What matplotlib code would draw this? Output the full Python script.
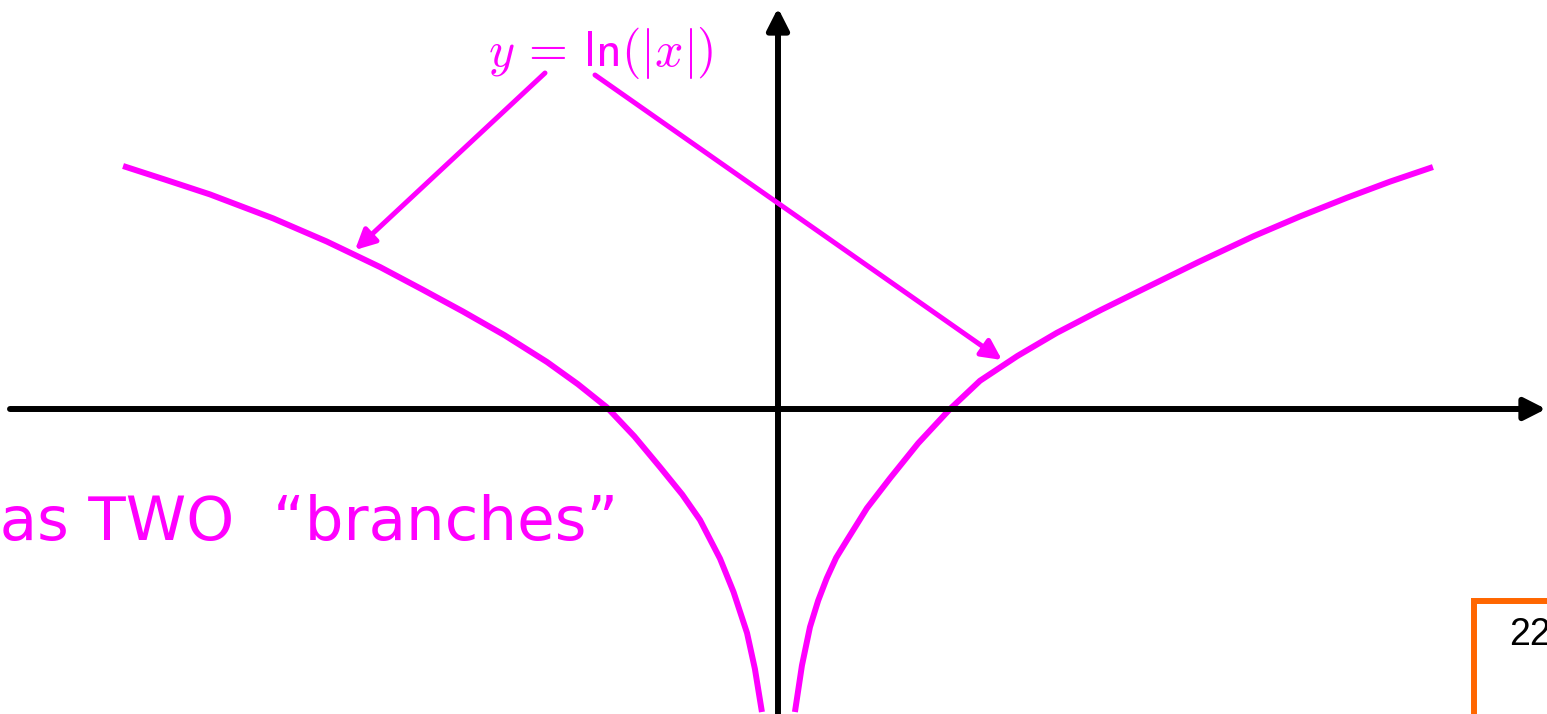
import matplotlib
matplotlib.use("Agg")
import matplotlib.pyplot as plt

# curve data, in axis units (1 unit = distance from origin to x = 1)
left_x = [-3.83, -3.58, -3.322, -2.953, -2.64, -2.327, -2.08, -1.842, -1.60, -1.351,
          -1.17, -1.0, -0.84, -0.69, -0.56, -0.456, -0.339, -0.26, -0.181, -0.135, -0.094]
left_y = [1.421, 1.34, 1.255, 1.115, 0.98, 0.830, 0.699, 0.570, 0.432, 0.275,
          0.145, 0.009, -0.16, -0.34, -0.50, -0.649, -0.875, -1.07, -1.31, -1.52, -1.772]
right_x = [0.099, 0.14, 0.187, 0.235, 0.285, 0.34, 0.404, 0.52, 0.655, 0.82, 1.006,
           1.181, 1.40, 1.63, 1.89, 2.154, 2.46, 2.78, 3.05, 3.326, 3.58, 3.83]
right_y = [-1.772, -1.50, -1.275, -1.12, -0.99, -0.87, -0.766, -0.58, -0.405, -0.20, 0.0,
           0.165, 0.31, 0.445, 0.58, 0.71, 0.86, 1.01, 1.125, 1.235, 1.33, 1.415]

label_text = r"$y\,=\,\mathsf{ln}(|x|)$"
caption_text = "has TWO  \u201cbranches\u201d"
page_number = "22"

MAG = "#FF00FF"
U = 171.0  # pixels per unit
X0, Y0 = 778.0, 409.0
W, H = 1547, 714

plt.rcParams["mathtext.fontset"] = "cm"
fig = plt.figure(figsize=(W / 100, H / 100), dpi=100)
ax = fig.add_axes([0, 0, 1, 1])
ax.set_xlim(-X0 / U, (W - X0) / U)
ax.set_ylim(-(H - Y0) / U, Y0 / U)
ax.axis("off")

def px(x, y):
    return ((x - X0) / U, (Y0 - y) / U)

axis_arrow = dict(arrowstyle="-|>,head_length=0.65,head_width=0.33", lw=4.3,
                  color="black", mutation_scale=20, shrinkA=0, shrinkB=0)
ax.annotate("", xy=px(1546, 409), xytext=px(10, 409), arrowprops=axis_arrow)
ax.annotate("", xy=px(778, 8), xytext=px(778, 716), arrowprops=axis_arrow)

# the two branches
ax.plot(left_x, left_y, color=MAG, lw=4.3, solid_capstyle="butt", solid_joinstyle="round")
ax.plot(right_x, right_y, color=MAG, lw=4.3, solid_capstyle="butt", solid_joinstyle="round")

# label with arrows
ax.text(*px(601, 53), label_text, color=MAG, fontsize=36, ha="center", va="center")
mag_arrow = dict(arrowstyle="-|>,head_length=0.6,head_width=0.3", lw=3.6,
                 color=MAG, mutation_scale=20, shrinkA=0, shrinkB=0)
ax.annotate("", xy=px(355, 250), xytext=px(545, 73), arrowprops=mag_arrow)
ax.annotate("", xy=px(1002, 360), xytext=px(595, 75), arrowprops=mag_arrow)

# caption
ax.text(*px(618, 540), caption_text, color=MAG, fontsize=44, ha="right",
        va="baseline", family=["DejaVu Sans"])

# page number box
bx = [px(1474, 716)[0], px(1474, 601)[0], px(1550, 601)[0]]
by = [px(1474, 716)[1], px(1474, 601)[1], px(1550, 601)[1]]
ax.plot(bx, by, color="#FF6600", lw=4.3, solid_joinstyle="miter")
ax.text(*px(1509, 645), page_number, color="black", fontsize=27, ha="left",
        va="baseline", family=["Liberation Sans", "DejaVu Sans"])

fig.savefig("out.png", dpi=100)
